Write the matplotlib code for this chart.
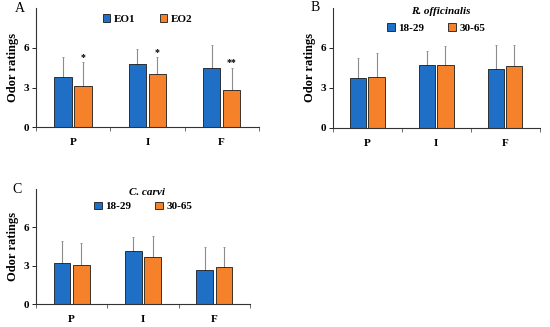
import numpy as np
import matplotlib
matplotlib.use("Agg")
import matplotlib.pyplot as plt
from matplotlib.patches import Patch

plt.rcParams['font.family'] = ['Liberation Serif', 'DejaVu Serif']

# ─────────────────────────────────────────────
# DATA
# ─────────────────────────────────────────────
categories = ['P', 'I', 'F']

# Panel A: EO1 vs EO2
a_labels = ['EO1', 'EO2']
a_eo1 = [3.81, 4.75, 4.50]
a_eo1_err = [1.52, 1.14, 1.70]
a_eo2 = [3.13, 3.99, 2.78]
a_eo2_err = [1.77, 1.29, 1.69]
a_stars = ['*', '*', '**']

# Panel B: R. officinalis by age group
b_title = 'R. officinalis'
age_labels = ['18-29', '30-65']
b_young = [3.75, 4.70, 4.38]
b_young_err = [1.50, 1.08, 1.80]
b_old = [3.85, 4.70, 4.63]
b_old_err = [1.78, 1.45, 1.55]

# Panel C: C. carvi by age group
c_title = 'C. carvi'
c_young = [3.18, 4.13, 2.68]
c_young_err = [1.79, 1.10, 1.76]
c_old = [3.02, 3.71, 2.94]
c_old_err = [1.79, 1.58, 1.50]

BLUE = '#1F6FC6'
ORANGE = '#F5822A'
ERR = '#8C8C8C'


def draw_panel(ax, s1, e1, s2, e2, labels, letter, title=None,
               stars=None, leg_y=0.97, title_y=1.0, letter_x=-0.05):
    x = np.arange(len(categories))
    w = 0.235
    off = 0.135
    ax.bar(x - off, s1, w, color=BLUE, edgecolor='#1a1a1a',
           linewidth=0.6, zorder=2)
    ax.bar(x + off, s2, w, color=ORANGE, edgecolor='#1a1a1a',
           linewidth=0.6, zorder=2)
    ax.errorbar(x - off, s1, yerr=[np.zeros(3), e1], fmt='none',
                ecolor=ERR, elinewidth=0.8, capsize=1, capthick=0.6,
                zorder=1)
    ax.errorbar(x + off, s2, yerr=[np.zeros(3), e2], fmt='none',
                ecolor=ERR, elinewidth=0.8, capsize=1, capthick=0.6,
                zorder=1)
    if stars:
        for xi, v, e, s in zip(x + off, s2, e2, stars):
            ax.text(xi, v + e + 0.05, s, ha='center', va='bottom',
                    fontsize=7, fontweight='bold')

    ax.set_xlim(-0.5, 2.5)
    ax.set_ylim(0, 9)
    ax.set_yticks([0, 3, 6])
    ax.set_xticks(x)
    ax.set_xticklabels(categories, fontweight='bold', fontsize=8)
    ax.set_xticks([-0.5, 0.5, 1.5, 2.5], minor=True)
    ax.tick_params(axis='x', which='major', length=0, pad=8)
    ax.tick_params(axis='x', which='minor', length=3, width=0.6,
                   color='#555555')
    ax.tick_params(axis='y', length=3, width=0.6, labelsize=8,
                   pad=2)
    for t in ax.get_yticklabels():
        t.set_fontweight('bold')
    ax.spines['top'].set_visible(False)
    ax.spines['right'].set_visible(False)
    ax.spines['left'].set_linewidth(0.8)
    ax.spines['bottom'].set_linewidth(0.8)
    ax.spines['left'].set_color('#333333')
    ax.spines['bottom'].set_color('#333333')
    ax.set_ylabel('Odor ratings', fontweight='bold', fontsize=9,
                  labelpad=3)

    handles = [Patch(facecolor=BLUE, edgecolor='#1a1a1a', linewidth=0.6),
               Patch(facecolor=ORANGE, edgecolor='#1a1a1a', linewidth=0.6)]
    leg = ax.legend(handles, labels, loc='upper center',
                    bbox_to_anchor=(0.5, leg_y), ncol=2, frameon=False,
                    fontsize=8, handlelength=0.7, handleheight=0.7,
                    handletextpad=0.3, columnspacing=2.2,
                    borderaxespad=0)
    for t in leg.get_texts():
        t.set_fontweight('bold')
    if title:
        ax.text(0.52, title_y, title, transform=ax.transAxes,
                ha='center', va='top', fontsize=8,
                fontweight='bold', style='italic')
    ax.text(letter_x, 1.0, letter, transform=ax.transAxes, ha='right',
            va='center', fontsize=10)


fig = plt.figure(figsize=(5.5, 3.27), dpi=100)
ax_a = fig.add_axes([0.0655, 0.611, 0.405, 0.364])
ax_b = fig.add_axes([0.605, 0.609, 0.376, 0.367])
ax_c = fig.add_axes([0.0655, 0.070, 0.389, 0.352])

draw_panel(ax_a, a_eo1, a_eo1_err, a_eo2, a_eo2_err, a_labels, 'A',
           stars=a_stars, leg_y=0.99, letter_x=-0.05)
draw_panel(ax_b, b_young, b_young_err, b_old, b_old_err, age_labels,
           'B', title=b_title, leg_y=0.91, title_y=1.01, letter_x=-0.065)
draw_panel(ax_c, c_young, c_young_err, c_old, c_old_err, age_labels,
           'C', title=c_title, leg_y=0.93, title_y=1.01, letter_x=-0.065)

fig.savefig('out.png', dpi=100)
plt.close(fig)
